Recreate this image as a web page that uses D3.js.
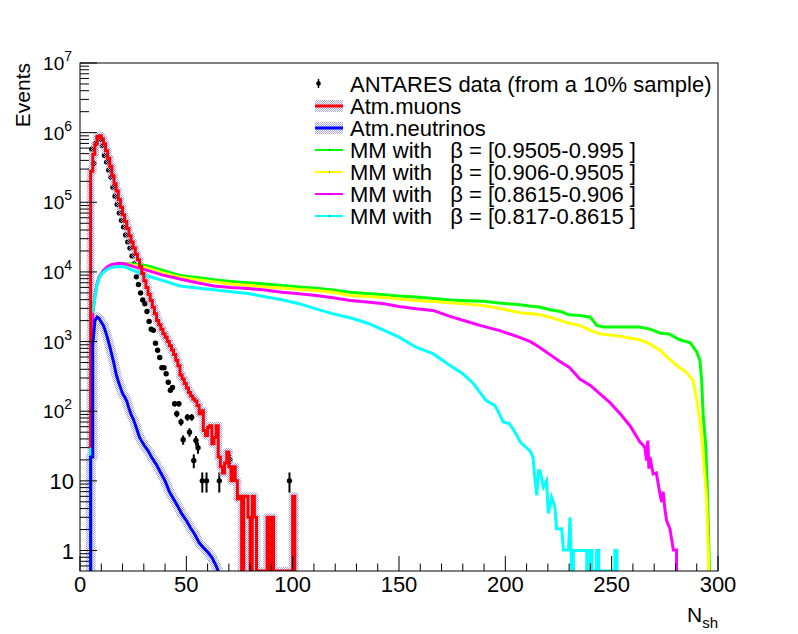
<!DOCTYPE html>
<html>
<head>
<meta charset="utf-8">
<script src="https://cdn.jsdelivr.net/npm/d3@7"></script>
<style>
body { margin: 0; background: #fff; }
text { font-family: "Liberation Sans", Arial, Helvetica, sans-serif; fill: #000; }
.leg { white-space: pre; }
</style>
</head>
<body>
<svg id="chart" width="798" height="634"></svg>
<script>
// ---- data (N_sh, events) ----

// ANTARES data points, unit bins (low edge)
var dataBins = [5,6,7,8,9,10,11,12,13,14,15,16,17,18,19,20,21,22,23,24,25,26,27,28,29,30,
  31,32,33,34,35,36,37,38,39,40,41,42,43,44,45,46,47,48,50,51,52,53,54,55,57,59,65,70,98];
var dataVal = [5.8e5,3.6e5,7.0e5,8.5e5,8.0e5,6.5e5,4.7e5,3.8e5,2.9e5,2.3e5,1.65e5,1.22e5,9.3e4,7.0e4,5.5e4,4.4e4,
  3.4e4,2.7e4,2.2e4,1.7e4,1.3e4,8.5e3,6.6e3,5.0e3,3.96e3,3.5e3,2.7e3,1.95e3,1.5e3,1.45e3,950,750,590,420,420,345,
  260,200,220,128,92,128,70,39,82,50,82,19.6,38,30,10,10,10,20,10];
var dataErr = [760,600,840,920,890,810,690,620,540,480,410,350,300,260,235,210,
  184,164,148,130,114,92,81,71,63,59,52,44,39,38,31,27,24,20,20,19,
  16,14,15,11,10,11,8,6,9,7,9,4.4,6,5.5,3.2,3.2,3.2,4.5,3.2];

// Atm. muons, unit bins starting at N = 5
var muonStart = 5;
var muonVal = [2.8e5,4.9e5,6.8e5,8.7e5,9.0e5,8.2e5,6.9e5,5.5e5,4.3e5,3.3e5,
  2.4e5,1.85e5,1.45e5,1.1e5,8.5e4,6.6e4,5.3e4,4.2e4,3.3e4,2.7e4,
  2.2e4,1.8e4,1.5e4,1.2e4,9.5e3,7.5e3,6.0e3,4.8e3,3.9e3,3.1e3,
  2.5e3,2.0e3,1.75e3,1.5e3,1.3e3,1.15e3,1.0e3,870,760,650,
  540,450,330,290,250,215,185,165,150,140,
  121,92,102,53,45,59,62,34,42,62,
  22,16,13,18,26,16,10,16,10,5.5,
  6,0,6,6,3,0,6,3,0,0,
  0,0,0,3,0,3,0,0,0,0,
  0,0,0,0,0,6,0];

// Atm. neutrinos
var nuPts = [[5,0],[5,22],[6,22],[6,900],[7,2000],[8,2250],[9,2150],[10,1900],[11,1700],[12,1400],[13,1100],
  [14,850],[15,640],[16,480],[17,340],[18,270],[19,220],[20,180],[21,160],[22,140],[23,110],
  [24,90],[25,78],[26,64],[27,52],[28,42],[30,33],[32,27],[34,21],[36,17],[38,13],[40,10],
  [42,7],[44,5.5],[46,4.3],[48,3.3],[50,2.7],[52,2.1],[54,1.7],[56,1.3],[58,1.1],[60,0.95],
  [62,0.8],[64,0.6],[65,0]];

// Magnetic monopoles, four beta ranges
var mm1Pts = [[5,0],[5,25],[6,2500],[7,4400],[8,6500],[9,8200],[10,9200],[11,1.0e4],[13,1.15e4],[15,1.22e4],
  [18,1.28e4],[21,1.31e4],[25,1.3e4],[31,1.24e4],[39,1.05e4],[47,8900],[55,8300],[63,7700],[71,7300],
  [79,7000],[87,6700],[95,6400],[103,6100],[111,5830],[119,5500],[127,5100],[135,4900],[143,4700],
  [150,4500],[158,4360],[166,4150],[174,3960],[182,3870],[190,3780],[197,3580],[207,3370],[212,3220],
  [216,3140],[221,2870],[226,2700],[230,2420],[235,2370],[240,2240],[243,1700],[246,1620],[263,1620],
  [268,1510],[273,1320],[277,1290],[282,1060],[287,960],[290,710],[291.5,535],[292.3,277],[293,92],
  [294.3,30],[295.1,5.8],[295.7,1.1],[296,0]];
var mm2Pts = [[5,0],[5,25],[6,2300],[7,4200],[8,6300],[9,8000],[10,9000],[11,9800],[13,1.12e4],[15,1.2e4],
  [18,1.27e4],[21,1.3e4],[25,1.25e4],[31,1.15e4],[39,9700],[47,8400],[55,7700],[63,7200],[71,6700],
  [79,6400],[87,6100],[95,5900],[103,5600],[111,5400],[119,5100],[127,4600],[135,4450],[143,4300],
  [150,4100],[158,3900],[166,3750],[174,3600],[182,3450],[190,3300],[197,3000],[207,2600],[216,2450],
  [221,2240],[226,2000],[230,1830],[235,1710],[240,1450],[244.5,1290],[254,1190],[263,1060],[268,930],
  [273,740],[277,565],[282,420],[285,365],[288.3,277],[290,150],[291.5,73],[293,24.5],[294.6,5.8],
  [295.4,1.1],[295.7,0]];
var mm3Pts = [[5,0],[5,25],[6,2600],[7,4500],[8,6800],[9,8500],[10,9500],[11,1.05e4],[13,1.2e4],[15,1.28e4],
  [18,1.33e4],[21,1.31e4],[25,1.2e4],[31,1.07e4],[39,9000],[47,7900],[55,7000],[63,6300],[71,6000],
  [79,5800],[87,5500],[95,5100],[103,4850],[111,4600],[119,4250],[127,3900],[135,3700],[143,3500],
  [150,3200],[158,2950],[166,2800],[174,2300],[182,1940],[188,1710],[197,1450],[207,1140],[212,990],
  [216,830],[221,650],[226,510],[230,430],[235,290],[240,235],[244.5,178],[249,135],[254,92],[258.6,62],
  [263.3,36],[265,32],[265.6,30],[266.4,19.6],[267,38],[267.5,15],[268,22],[269.5,12.6],[271,13],
  [272.7,6.5],[273.5,5],[274.2,7],[275,4],[275.8,2.7],[277.4,2.05],[279,1.02],[280.5,1.02],[280.5,0]];
var mm4Pts = [[5,0],[5,2600],[6,2700],[7,4300],[8,6500],[9,8200],[10,9200],[11,9900],[13,1.1e4],[15,1.17e4],
  [18,1.2e4],[21,1.18e4],[25,1.05e4],[31,8900],[39,7500],[47,6300],[55,5900],[63,5560],[71,5200],
  [79,4900],[87,4400],[95,3980],[103,3500],[111,2950],[119,2500],[127,2200],[135,1850],[143,1450],
  [150,1160],[158,830],[166,670],[174,455],[180,345],[185,250],[188,188],[191,142],[195,121],[196,108],
  [199,70],[202,66],[204,53],[206,42],[207,36],[211.6,27],[213,22],[214,10],[214.8,6.2],[215.6,14],
  [216.3,14],[217.9,8.1],[219.4,10],[220.2,3.4],[221.8,5.8],[223.3,4.2],[224.1,2.05],[226.5,2.05],
  [227.3,1.02],[229.7,1.02],[230.4,3],[231.2,0],[232,0],[232,1],[238.3,1],[238.3,0],[239.8,0],
  [239.8,1],[240.8,1],[240.8,0],[242.9,0],[242.9,1],[243.9,1],[243.9,0],[251.5,0],[251.5,1],
  [252.5,1],[252.5,0]];

var legendLabels = ["ANTARES data (from a 10% sample)", "Atm.muons", "Atm.neutrinos",
  "MM with   \u03b2 = [0.9505-0.995 ]", "MM with   \u03b2 = [0.906-0.9505 ]",
  "MM with   \u03b2 = [0.8615-0.906 ]", "MM with   \u03b2 = [0.817-0.8615 ]"];
var xTickLabels = [0, 50, 100, 150, 200, 250, 300];
var yDecades = [1, 10, 100, 1e3, 1e4, 1e5, 1e6, 1e7];

// ---- drawing ----
var fLeft = 80, fRight = 718, fTop = 63, fBottom = 571;
var yMin = 0.508;

var svg = d3.select("#chart");
var x = d3.scaleLinear().domain([0, 300]).range([fLeft, fRight]);
var y = d3.scaleLog().domain([yMin, 1e7]).range([fBottom, fTop]).clamp(true);
function yv(v) { return y(Math.max(v, yMin)); }

var defs = svg.append("defs");
var pat = defs.append("pattern").attr("id", "hatch")
  .attr("width", 2).attr("height", 2).attr("patternUnits", "userSpaceOnUse");
pat.append("rect").attr("width", 1).attr("height", 1).attr("fill", "#a4a4ea");
pat.append("rect").attr("x", 1).attr("y", 1).attr("width", 1).attr("height", 1).attr("fill", "#a4a4ea");
defs.append("clipPath").attr("id", "frame").append("rect")
  .attr("x", fLeft).attr("y", fTop).attr("width", fRight - fLeft).attr("height", fBottom - fTop);

// muons are drawn as a unit-bin step histogram, the other MC curves as polylines
var histStep = d3.line().x(d => x(d[0])).y(d => yv(d[1])).curve(d3.curveStepAfter);
var histLine = d3.line().x(d => x(d[0])).y(d => yv(d[1]));

var muonPts = [[muonStart, 30]].concat(muonVal.map((v, i) => [muonStart + i, v]));

var plot = svg.append("g").attr("clip-path", "url(#frame)");

// data points first, the MC bands are drawn over them
dataBins.forEach(function (b, i) {
  var cx = x(b + 0.5), v = dataVal[i], e = dataErr[i];
  plot.append("line")
    .attr("x1", cx).attr("x2", cx)
    .attr("y1", yv(v + e)).attr("y2", yv(v - e))
    .attr("stroke", "#000").attr("stroke-width", 2);
  plot.append("circle").attr("cx", cx).attr("cy", yv(v)).attr("r", 2.7).attr("fill", "#000");
});

// error bands
plot.append("path").attr("d", histStep(muonPts)).attr("fill", "none")
  .attr("stroke", "url(#hatch)").attr("stroke-width", 8).attr("stroke-linejoin", "round");
plot.append("path").attr("d", histLine(nuPts)).attr("fill", "none")
  .attr("stroke", "url(#hatch)").attr("stroke-width", 10).attr("stroke-linejoin", "round");

var mmSeries = [
  { pts: mm1Pts, color: "#00ff00" },
  { pts: mm2Pts, color: "#ffff00" },
  { pts: mm3Pts, color: "#ff00ff" },
  { pts: mm4Pts, color: "#00ffff" }
];
mmSeries.forEach(function (s) {
  plot.append("path").attr("d", histLine(s.pts)).attr("fill", "none")
    .attr("stroke", s.color).attr("stroke-width", 3);
});

plot.append("path").attr("d", histStep(muonPts)).attr("fill", "none")
  .attr("stroke", "#ff0000").attr("stroke-width", 3);
plot.append("path").attr("d", histLine(nuPts)).attr("fill", "none")
  .attr("stroke", "#0000ff").attr("stroke-width", 3);

// frame
svg.append("rect").attr("x", fLeft).attr("y", fTop)
  .attr("width", fRight - fLeft).attr("height", fBottom - fTop)
  .attr("fill", "none").attr("stroke", "#000").attr("stroke-width", 1);

// x axis ticks (inside, pointing up)
var ax = svg.append("g").attr("stroke", "#000").attr("stroke-width", 1);
d3.range(0, 301, 10).forEach(function (t) {
  var len = (t % 50 === 0) ? 15 : 7.5;
  ax.append("line").attr("x1", x(t)).attr("x2", x(t))
    .attr("y1", fBottom).attr("y2", fBottom - len);
});
svg.selectAll(".xlab").data(xTickLabels).enter().append("text")
  .attr("class", "xlab")
  .attr("x", d => x(d)).attr("y", 592)
  .attr("text-anchor", "middle").attr("font-size", 22)
  .text(d => d);

// y axis ticks
yDecades.forEach(function (d) {
  ax.append("line").attr("x1", fLeft).attr("x2", fLeft + 17)
    .attr("y1", y(d)).attr("y2", y(d));
});
[0.1, 1, 10, 100, 1e3, 1e4, 1e5, 1e6].forEach(function (dec) {
  for (var m = 2; m <= 9; m++) {
    var v = dec * m;
    if (v < yMin || v > 1e7) continue;
    ax.append("line").attr("x1", fLeft).attr("x2", fLeft + 9)
      .attr("y1", y(v)).attr("y2", y(v));
  }
});

yDecades.forEach(function (d, k) {
  if (k < 2) {
    svg.append("text").attr("x", 74).attr("y", y(d) + 8)
      .attr("text-anchor", "end").attr("font-size", 22)
      .text(k === 0 ? "1" : "10");
  } else {
    var t = svg.append("text").attr("x", 72).attr("y", y(d) + 7)
      .attr("text-anchor", "end").attr("font-size", 19);
    t.append("tspan").text("10");
    t.append("tspan").attr("font-size", 14).attr("dy", -9).text(k);
  }
});

// axis titles
svg.append("text")
  .attr("transform", "translate(30," + fTop + ") rotate(-90)")
  .attr("text-anchor", "end").attr("font-size", 21)
  .text("Events");
var xt = svg.append("text").attr("x", fRight).attr("y", 622)
  .attr("text-anchor", "end").attr("font-size", 21);
xt.append("tspan").text("N");
xt.append("tspan").attr("font-size", 15).attr("dy", 6).text("sh");

// legend
var legColors = [null, "#ff0000", "#0000ff", "#00ff00", "#ffff00", "#ff00ff", "#00ffff"];
var leg = svg.append("g");
legendLabels.forEach(function (lab, i) {
  var ry = 84 + i * 22;
  if (i === 0) {
    leg.append("line").attr("x1", 318.5).attr("x2", 318.5)
      .attr("y1", ry - 5).attr("y2", ry + 4)
      .attr("stroke", "#000").attr("stroke-width", 1.5);
    leg.append("circle").attr("cx", 318.5).attr("cy", ry - 0.5).attr("r", 2.3).attr("fill", "#000");
  } else if (i <= 2) {
    leg.append("rect").attr("x", 315).attr("y", ry - 6)
      .attr("width", 28).attr("height", 12).attr("fill", "url(#hatch)");
    leg.append("line").attr("x1", 315).attr("x2", 343)
      .attr("y1", ry).attr("y2", ry)
      .attr("stroke", legColors[i]).attr("stroke-width", 3);
  } else {
    leg.append("line").attr("x1", 315).attr("x2", 343)
      .attr("y1", ry).attr("y2", ry)
      .attr("stroke", legColors[i]).attr("stroke-width", 2);
    leg.append("rect").attr("x", 329).attr("y", ry - 0.5)
      .attr("width", 1).attr("height", 1).attr("fill", "#000");
  }
  leg.append("text").attr("class", "leg")
    .attr("x", 350).attr("y", ry + 7.5)
    .attr("font-size", 22)
    .text(lab);
});
</script>
</body>
</html>
